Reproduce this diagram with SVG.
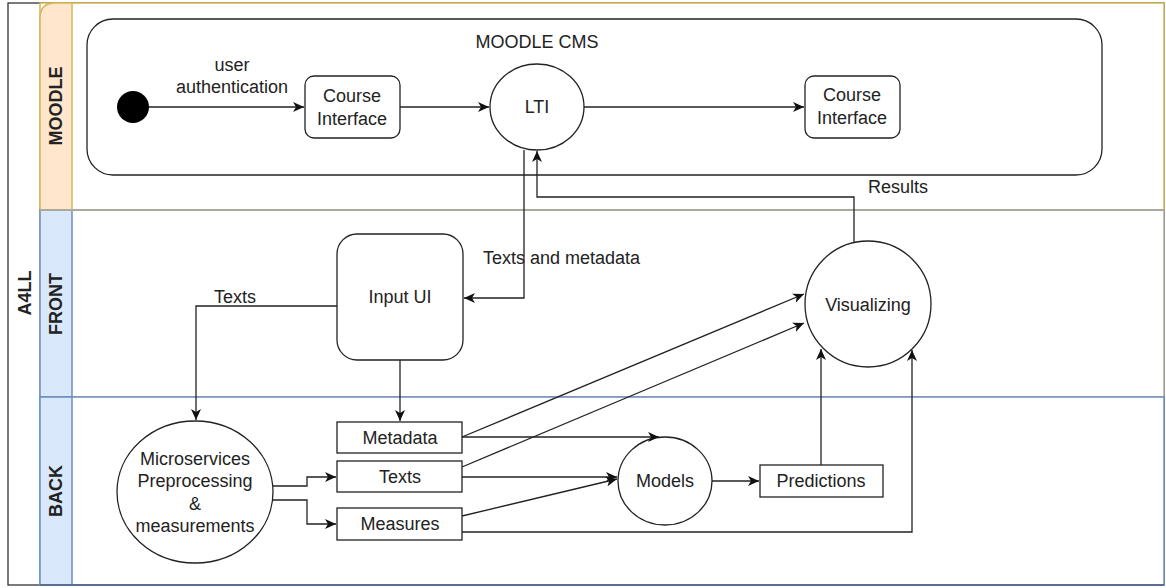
<svg xmlns="http://www.w3.org/2000/svg" width="1166" height="588" viewBox="0 0 1166 588">
<style>
text{font-family:"Liberation Sans",Arial,sans-serif;font-size:18px;fill:#222;}
.c{text-anchor:middle;}
.b{font-weight:bold;}
.n{fill:#fff;stroke:#222;stroke-width:1.3;}
.e{fill:none;stroke:#222;stroke-width:1.3;}
</style>
<defs>
<marker id="a" markerUnits="userSpaceOnUse" markerWidth="12" markerHeight="10" refX="11" refY="5" orient="auto">
<path d="M0,0 L11,5 L0,10 L3,5 z" fill="#111"/>
</marker>
</defs>
<rect width="1166" height="588" fill="#fff"/>
<g id="pool">
<rect x="8" y="3" width="1156" height="582" fill="#fff" stroke="#222" stroke-width="1.2"/>
<text class="c b" transform="translate(31,293) rotate(-90)">A4LL</text>
</g>
<g id="lane-moodle">
<rect x="40" y="3" width="1124" height="207" fill="#fff" stroke="#d6b656" stroke-width="1.5"/>
<path d="M40,210 V18 Q40,3 55,3 H72 V210 Z" fill="#ffe6cc" stroke="#d6b656" stroke-width="1.5"/>
<text class="c b" transform="translate(62,106) rotate(-90)">MOODLE</text>
</g>
<g id="lane-front">
<rect x="40" y="210" width="1124" height="187" fill="#fff" stroke="#a9aa9c" stroke-width="1.5"/>
<rect x="40" y="210" width="32" height="187" fill="#dae8fc" stroke="#6c8ebf" stroke-width="1.5"/>
<line x1="40" y1="210" x2="1164" y2="210" stroke="#a9aa9c" stroke-width="2"/>
<text class="c b" transform="translate(62,304) rotate(-90)">FRONT</text>
</g>
<g id="lane-back">
<rect x="40" y="397" width="1124" height="188" fill="#fff" stroke="#6c8ebf" stroke-width="1.5"/>
<rect x="40" y="397" width="32" height="188" fill="#dae8fc" stroke="#6c8ebf" stroke-width="1.5"/>
<line x1="40" y1="585" x2="1164" y2="585" stroke="#5a6f8f" stroke-width="2"/>
<text class="c b" transform="translate(62,491) rotate(-90)">BACK</text>
</g>
<g id="moodle-cms">
<rect x="87" y="19" width="1015" height="156" rx="26" class="n"/>
<text class="c" x="537" y="48">MOODLE CMS</text>
</g>
<g id="start"><circle cx="133" cy="107" r="16" fill="#000"/></g>
<g id="course1">
<rect x="305" y="76" width="95" height="62" rx="9" class="n"/>
<text class="c" x="352" y="102">Course</text>
<text class="c" x="352" y="125">Interface</text>
</g>
<g id="lti">
<ellipse cx="537" cy="107" rx="47" ry="43" class="n"/>
<text class="c" x="537" y="113">LTI</text>
</g>
<g id="course2">
<rect x="805" y="76" width="95" height="62" rx="9" class="n"/>
<text class="c" x="852" y="101">Course</text>
<text class="c" x="852" y="124">Interface</text>
</g>
<g id="input-ui">
<rect x="337" y="234" width="126" height="126" rx="20" class="n"/>
<text class="c" x="400" y="303">Input UI</text>
</g>
<g id="visualizing">
<circle cx="868" cy="304" r="63" class="n"/>
<text class="c" x="868" y="311">Visualizing</text>
</g>
<g id="microservices">
<ellipse cx="195" cy="492" rx="78" ry="71" class="n"/>
<text class="c" x="195" y="465">Microservices</text>
<text class="c" x="195" y="487">Preprocessing</text>
<text class="c" x="195" y="510">&amp;</text>
<text class="c" x="195" y="532">measurements</text>
</g>
<g id="metadata">
<rect x="337" y="422" width="125" height="31" class="n"/>
<text class="c" x="400" y="444">Metadata</text>
</g>
<g id="texts">
<rect x="337" y="461" width="125" height="31" class="n"/>
<text class="c" x="400" y="483">Texts</text>
</g>
<g id="measures">
<rect x="337" y="508" width="125" height="32" class="n"/>
<text class="c" x="400" y="530">Measures</text>
</g>
<g id="models">
<ellipse cx="665" cy="481" rx="47" ry="44" class="n"/>
<text class="c" x="665" y="487">Models</text>
</g>
<g id="predictions">
<rect x="760" y="465" width="123" height="32" class="n"/>
<text class="c" x="821" y="487">Predictions</text>
</g>
<g id="connectors">
<path class="e" d="M149,107 H304" marker-end="url(#a)"/>
<text class="c" x="232" y="71">user</text>
<text class="c" x="232" y="93">authentication</text>
<path class="e" d="M400,107 H489" marker-end="url(#a)"/>
<path class="e" d="M584,107 H804" marker-end="url(#a)"/>
<path class="e" d="M854,242 V197 H537 V151" marker-end="url(#a)"/>
<text class="c" x="898" y="193">Results</text>
<path class="e" d="M524,150 V298 H464" marker-end="url(#a)"/>
<text x="483" y="264">Texts and metadata</text>
<path class="e" d="M337,306 H196 V420" marker-end="url(#a)"/>
<text class="c" x="235" y="303">Texts</text>
<path class="e" d="M400,360 V421" marker-end="url(#a)"/>
<path class="e" d="M273,486 H307 V477 H336" marker-end="url(#a)"/>
<path class="e" d="M273,500 H307 V524 H336" marker-end="url(#a)"/>
<path class="e" d="M462,437 H659" marker-end="url(#a)"/>
<path class="e" d="M462,477 H617" marker-end="url(#a)"/>
<path class="e" d="M462,516 L617,479" marker-end="url(#a)"/>
<path class="e" d="M462,437 L804,294" marker-end="url(#a)"/>
<path class="e" d="M462,467 L804,323" marker-end="url(#a)"/>
<path class="e" d="M712,481 H759" marker-end="url(#a)"/>
<path class="e" d="M821,465 V349" marker-end="url(#a)"/>
<path class="e" d="M462,532 H912 V350" marker-end="url(#a)"/>
</g>
</svg>
